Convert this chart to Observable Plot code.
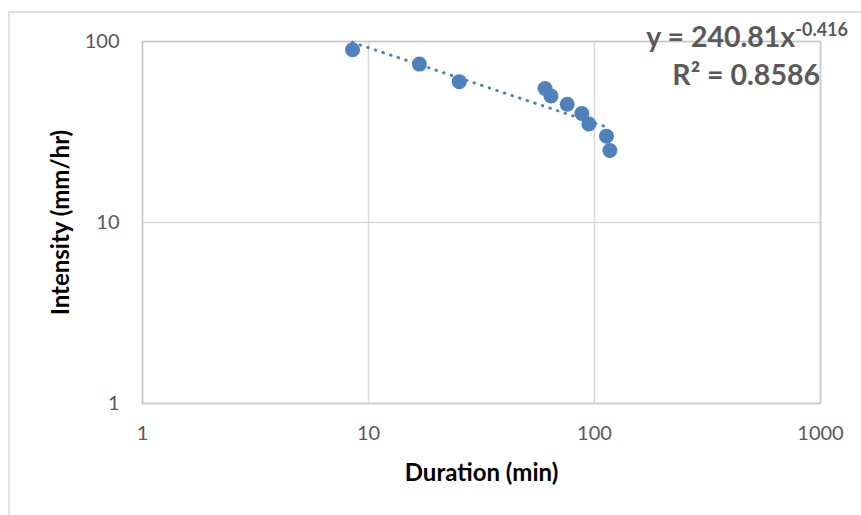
<!DOCTYPE html>
<html>
<head>
<meta charset="utf-8">
<script src="https://cdn.jsdelivr.net/npm/d3@7"></script>
<script src="https://cdn.jsdelivr.net/npm/@observablehq/plot@0.6"></script>
<style>
  html, body { margin: 0; padding: 0; background: #fff; }
  #chart svg { display: block; }
</style>
</head>
<body>
<div id="chart"></div>
<script>
// Data
const duration = [8.5, 16.8, 25.2, 60.4, 64.2, 75.7, 87.9, 94.4, 113, 117];
const intensity = [90, 75, 60, 55, 50, 45, 40, 35, 30, 25];
const xTicks = [1, 10, 100, 1000];
const yTicks = [1, 10, 100];
// Power trendline shown on chart: y = a * x^b
const trendA = 240.81;
const trendB = -0.416;
const rSquared = "0.8586";

const points = duration.map((d, i) => ({duration: d, intensity: intensity[i]}));
const xMin = d3.min(duration), xMax = d3.max(duration);
const trend = [xMin, xMax].map(x => ({duration: x, intensity: trendA * Math.pow(x, trendB)}));

const blue = "#4f81bd";
const font = "Lato, 'Open Sans', sans-serif";

const chart = Plot.plot({
  width: 861,
  height: 515,
  marginLeft: 142,
  marginRight: 41,
  marginTop: 41,
  marginBottom: 112,
  style: {fontFamily: font, fontSize: "20px", color: "#595959", background: "#fff"},
  x: {type: "log", domain: [1, 1000], ticks: xTicks, tickFormat: d => String(d), tickSize: 0, tickPadding: 22, label: null},
  y: {type: "log", domain: [1, 100], ticks: yTicks, tickFormat: d => String(d), tickSize: 0, tickPadding: 23, label: null},
  marks: [
    Plot.gridX(xTicks, {stroke: "#d9d9d9", strokeOpacity: 1, strokeWidth: 1.5}),
    Plot.gridY(yTicks, {stroke: "#d9d9d9", strokeOpacity: 1, strokeWidth: 1.5}),
    Plot.frame({stroke: "#c8c8c8", strokeWidth: 1.5}),
    Plot.axisX({ticks: xTicks, tickFormat: d => String(d), tickSize: 0, tickPadding: 22, label: null, fill: "#595959"}),
    Plot.axisY({ticks: yTicks, tickFormat: d => String(d), tickSize: 0, tickPadding: 23, label: null, fill: "#595959"}),
    Plot.dot(points, {x: "duration", y: "intensity", r: 7.5, fill: blue, stroke: "none"}),
    Plot.line(trend, {x: "duration", y: "intensity", stroke: blue, strokeWidth: 3, strokeDasharray: "0.5,7.5", strokeLinecap: "round"}),
    Plot.text(["Duration (min)"], {frameAnchor: "bottom", dy: 77, fontWeight: "bold", fontSize: 24, fill: "#000"}),
    Plot.text(["Intensity (mm/hr)"], {frameAnchor: "left", textAnchor: "middle", dx: -81, rotate: -90, fontWeight: "bold", fontSize: 24, fill: "#000"})
  ]
});

document.getElementById("chart").appendChild(chart);

const svg = d3.select(chart);
// outer chart border (left and top edges visible)
svg.insert("rect", ":first-child")
  .attr("x", 9).attr("y", 12).attr("width", 900).attr("height", 600)
  .attr("fill", "none").attr("stroke", "#d9d9d9").attr("stroke-width", 1.5);

// trendline equation and R²
const eq = svg.append("text")
  .attr("x", 848).attr("y", 47)
  .attr("text-anchor", "end")
  .attr("font-family", font).attr("font-weight", "bold").attr("font-size", 28.5)
  .attr("fill", "#595959");
eq.append("tspan").text(`y = ${trendA}x`);
eq.append("tspan").attr("dy", -11).attr("font-size", 18).text(String(trendB));

const r2 = svg.append("text")
  .attr("x", 820).attr("y", 85)
  .attr("text-anchor", "end")
  .attr("font-family", font).attr("font-weight", "bold").attr("font-size", 28.5)
  .attr("fill", "#595959");
r2.append("tspan").text("R² = " + rSquared);
</script>
</body>
</html>
